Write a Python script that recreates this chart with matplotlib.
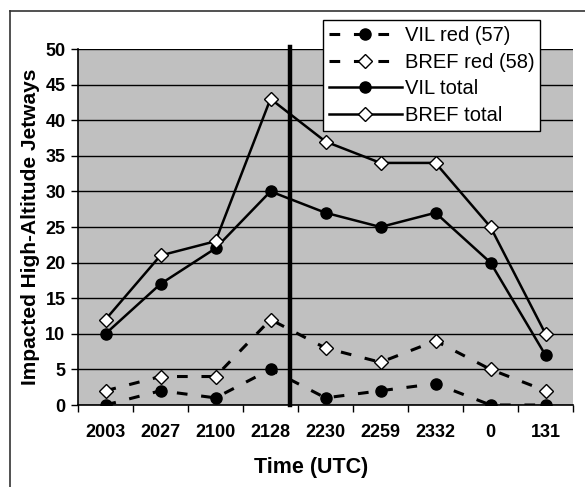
import matplotlib.pyplot as plt
from matplotlib.lines import Line2D

times = ["2003", "2027", "2100", "2128", "2230", "2259", "2332", "0", "131"]
vil_red = [0, 2, 1, 5, 1, 2, 3, 0, 0]
bref_red = [2, 4, 4, 12, 8, 6, 9, 5, 2]
vil_total = [10, 17, 22, 30, 27, 25, 27, 20, 7]
bref_total = [12, 21, 23, 43, 37, 34, 34, 25, 10]
yticks = list(range(0, 51, 5))
divider = 3.35

plt.rcParams['font.family'] = ['Liberation Sans', 'DejaVu Sans']

fig = plt.figure(figsize=(5.85, 4.87), dpi=100)
ax = fig.add_axes([78 / 585, 1 - 405 / 487, 495 / 585, 356 / 487])
ax.set_facecolor("#c0c0c0")

x = list(range(len(times)))
dash = dict(linestyle=(0, (3.5, 4.5)), linewidth=2.2)
ax.plot(x, vil_red, color="black", marker="o", markersize=8,
        markerfacecolor="black", label="VIL red (57)", **dash)
ax.plot(x, bref_red, color="black", marker="D", markersize=7.5,
        markerfacecolor="white", markeredgewidth=1, label="BREF red (58)", **dash)
ax.plot(x, vil_total, color="black", marker="o", markersize=8, linewidth=1.8,
        markerfacecolor="black", label="VIL total")
ax.plot(x, bref_total, color="black", marker="D", markersize=7.5, linewidth=1.8,
        markerfacecolor="white", markeredgewidth=1, label="BREF total")

ax.axvline(divider, ymin=0, ymax=1.005, color="black", linewidth=3.2, clip_on=False)

ax.set_xlim(-0.5, len(times) - 0.5)
ax.set_ylim(0, 50)
ax.set_yticks(yticks)
ax.set_yticklabels([str(v) for v in yticks], fontweight="bold", fontsize=13)
ax.yaxis.grid(True, color="black", linewidth=1)
ax.set_axisbelow(True)

ax.set_xticks(x)
ax.set_xticklabels(times, fontweight="bold", fontsize=13)
ax.set_xticks([i - 0.5 for i in range(len(times) + 1)], minor=True)
ax.tick_params(axis="x", which="major", length=0, pad=14)
ax.tick_params(axis="x", which="minor", length=5, width=1, direction="out")
ax.tick_params(axis="y", length=5, width=1, pad=4)

for side in ["top", "right"]:
    ax.spines[side].set_visible(False)
ax.spines["left"].set_linewidth(1.2)
ax.spines["bottom"].set_linewidth(1.2)

ax.set_ylabel("Impacted High-Altitude Jetways", fontweight="bold", fontsize=15, labelpad=4)
ax.set_xlabel("Time (UTC)", fontweight="bold", fontsize=15.5, va="center")
ax.xaxis.set_label_coords((311 - 78) / 495, (405 - 468) / 356)

leg = ax.legend(loc="upper left", bbox_to_anchor=(245 / 495, 1 + 29 / 356),
                frameon=True, fancybox=False, framealpha=1, edgecolor="black",
                fontsize=14.5, borderpad=0.3, labelspacing=0.38, handlelength=3.6,
                handletextpad=0.15, borderaxespad=0)
leg.get_frame().set_linewidth(1)

fig.add_artist(Line2D([10 / 585, 10 / 585], [0, 1 - 11 / 487], color="#333333",
                      linewidth=1.2, transform=fig.transFigure))
fig.add_artist(Line2D([10 / 585, 1], [1 - 11 / 487, 1 - 11 / 487], color="#333333",
                      linewidth=1.2, transform=fig.transFigure))

fig.savefig("out.png", dpi=100)
